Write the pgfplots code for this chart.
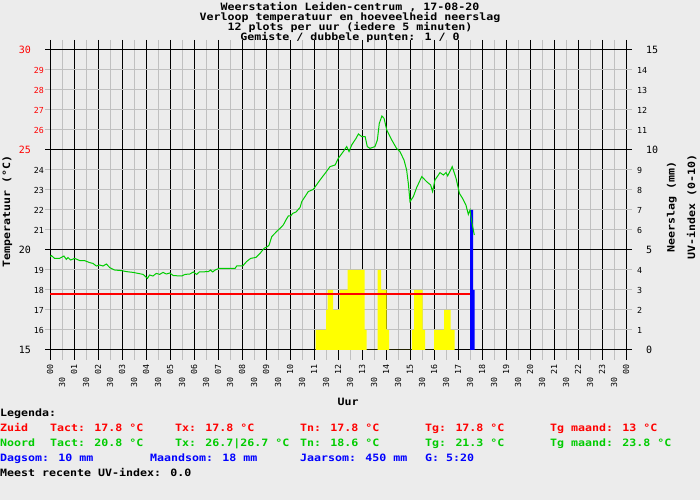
\documentclass[border=0pt]{standalone}
\usepackage{pgfplots}
\pgfplotsset{compat=1.18}
\usepackage{fontspec}
\newfontfamily\gdmono{DejaVu Sans Mono}
\newfontfamily\gdwide{DejaVu Sans Mono}[FakeStretch=1.15]
\newcommand\bigf{\fontsize{10.1}{11}\selectfont\gdwide\bfseries}
\newcommand\smf{\fontsize{10}{11}\selectfont\gdmono}
\newcommand\tnf{\fontsize{8.3}{9}\selectfont\gdmono}
\definecolor{bg}{RGB}{236,236,236}
\definecolor{gridgrey}{RGB}{192,192,192}
\definecolor{mygreen}{RGB}{0,204,0}
\definecolor{myred}{RGB}{255,0,0}
\definecolor{myblue}{RGB}{0,0,255}
\definecolor{myyellow}{RGB}{255,255,0}
\begin{document}
\begin{tikzpicture}[x=1pt,y=1pt]
\path[use as bounding box, fill=bg] (0,0) rectangle (700,500);
% ---------- axis A: grid, x ticks, bars
\begin{axis}[
  at={(50pt,150pt)}, anchor=south west, scale only axis,
  width=576pt, height=300pt,
  xmin=0, xmax=24, ymin=0, ymax=15,
  axis line style={black, line width=1pt},
  xtick={0,...,24},
  xticklabels={00,01,02,03,04,05,06,07,08,09,10,11,12,13,14,15,16,17,18,19,20,21,22,23,00},
  minor x tick num=1,
  extra x ticks={0.5,1.5,...,23.5},
  extra x tick labels={30,30,30,30,30,30,30,30,30,30,30,30,30,30,30,30,30,30,30,30,30,30,30,30},
  extra x tick style={grid=none, major tick style={draw=none}, xticklabel style={xshift=-13pt}},
  ytick={0,5,10,15}, yticklabels={},
  ytick style={draw=none},
  extra y ticks={1,2,3,4,6,7,8,9,11,12,13,14}, extra y tick labels={},
  extra y tick style={grid=major, major grid style={gridgrey, line width=1pt}, major tick style={draw=none}},
  grid=both,
  major grid style={black, line width=1pt},
  minor grid style={gridgrey, line width=1pt},
  tick align=outside,
  major tick length=10pt, minor tick length=10pt,
  major x tick style={black, line width=1pt},
  minor x tick style={gridgrey, line width=1pt},
  xticklabel style={rotate=90, anchor=east, inner sep=0pt, font=\tnf, xshift=-4pt},
]
\addplot[const plot, fill=myyellow, draw=none] coordinates {
 (11.071,1) (11.500,2) (11.571,3) (11.792,2) (12.071,3) (12.404,4)
 (13.113,1) (13.196,0) (13.654,4) (13.792,3) (14.029,1) (14.125,0)
 (15.083,1) (15.167,3) (15.529,1) (15.625,0) (16.000,1) (16.417,2)
 (16.696,1) (16.863,0)} \closedcycle;
\addplot[const plot, fill=myblue, draw=none] coordinates {
 (17.500,7) (17.625,3) (17.696,0)} \closedcycle;
\end{axis}
% ---------- axis B: right scale (Neerslag)
\begin{axis}[
  at={(50pt,150pt)}, anchor=south west, scale only axis,
  width=576pt, height=300pt,
  xmin=0, xmax=24, ymin=0, ymax=15,
  hide x axis, axis y line*=right,
  axis line style={black, line width=1pt},
  tick align=outside, major tick length=6pt,
  ytick={0,5,10,15}, yticklabels={0,5,10,15},
  major tick style={black, line width=1pt},
  yticklabel style={anchor=west, inner sep=0pt, font=\smf, xshift=14pt},
  extra y ticks={1,2,3,4,6,7,8,9,11,12,13,14},
  extra y tick labels={1,2,3,4,6,7,8,9,11,12,13,14},
  extra y tick style={major tick style={gridgrey, line width=1pt}, yticklabel style={font=\tnf, xshift=-9pt}},
]
\end{axis}
% ---------- axis C: left scale (temperature) and lines
\begin{axis}[
  at={(50pt,150pt)}, anchor=south west, scale only axis,
  width=576pt, height=300pt,
  xmin=0, xmax=24, ymin=15, ymax=30,
  hide x axis, axis y line*=left,
  axis line style={black, line width=1pt},
  tick align=outside, major tick length=5pt,
  ytick={15,20,25,30},
  yticklabels={15,20,\textcolor{myred}{25},\textcolor{myred}{30}},
  major tick style={black, line width=1pt},
  yticklabel style={anchor=east, inner sep=0pt, font=\smf, xshift=-14pt},
  extra y ticks={16,17,18,19,21,22,23,24,26,27,28,29},
  extra y tick labels={16,17,18,19,21,22,23,24,\textcolor{myred}{26},\textcolor{myred}{27},\textcolor{myred}{28},\textcolor{myred}{29}},
  extra y tick style={major tick style={gridgrey, line width=1pt}, yticklabel style={font=\tnf, xshift=13pt}},
]
\addplot[draw=myred, color=myred, line width=1.1pt] coordinates {(0,17.8) (17.5,17.8)};
\addplot[draw=mygreen, line width=1pt] coordinates {
(0.00,19.67) (0.06,19.72) (0.19,19.58) (0.40,19.58) (0.58,19.70) (0.68,19.53)
(0.75,19.62) (0.86,19.50) (1.03,19.58) (1.24,19.47) (1.44,19.47) (1.65,19.37)
(1.79,19.33) (1.93,19.20) (2.07,19.25) (2.21,19.20) (2.35,19.30) (2.49,19.12)
(2.69,19.00) (2.97,18.97) (3.18,18.92) (3.46,18.88) (3.67,18.83) (3.88,18.78)
(4.06,18.58) (4.15,18.75) (4.29,18.70) (4.43,18.83) (4.57,18.78) (4.71,18.88)
(4.85,18.80) (4.99,18.85) (5.14,18.72) (5.49,18.70) (5.63,18.78) (5.83,18.80)
(5.97,18.90) (6.11,18.78) (6.22,18.90) (6.60,18.92) (6.69,19.00) (6.78,18.90)
(6.88,19.00) (7.04,19.08) (7.36,19.08) (7.71,19.08) (7.78,19.20) (8.03,19.20)
(8.19,19.42) (8.36,19.58) (8.58,19.63) (8.75,19.83) (8.92,20.08) (9.06,20.17)
(9.13,20.25) (9.24,20.67) (9.44,20.92) (9.58,21.08) (9.72,21.25) (9.83,21.50)
(9.93,21.70) (10.03,21.70) (10.11,21.83) (10.25,21.90) (10.42,22.13) (10.49,22.42)
(10.76,22.92) (10.97,23.03) (11.25,23.50) (11.46,23.83) (11.67,24.17) (11.88,24.25)
(12.01,24.58) (12.22,24.92) (12.36,25.17) (12.46,24.92) (12.57,25.25) (12.75,25.58)
(12.85,25.80) (12.99,25.67) (13.13,25.67) (13.22,25.17) (13.33,25.08) (13.54,25.17)
(13.64,25.50) (13.72,26.33) (13.83,26.70) (13.92,26.58) (14.03,26.00) (14.24,25.50)
(14.44,25.08) (14.58,24.92) (14.75,24.50) (14.86,24.00) (14.93,23.33) (15.00,22.42)
(15.14,22.67) (15.28,23.13) (15.49,23.67) (15.69,23.42) (15.86,23.25) (15.94,22.92)
(16.04,23.50) (16.25,23.87) (16.39,23.75) (16.50,23.87) (16.57,23.70) (16.76,24.17)
(16.92,23.58) (17.06,22.83) (17.19,22.58) (17.33,22.25) (17.43,21.78) (17.50,22.00)
(17.57,21.42) (17.68,20.75)};
\end{axis}
% ---------- texts
\begin{scope}[every node/.style={inner sep=0pt}]
\node[anchor=base, font=\bigf] at (350,489) {Weerstation Leiden-centrum , 17-08-20};
\node[anchor=base, font=\bigf] at (350,479.3) {Verloop temperatuur en hoeveelheid neerslag};
\node[anchor=base, font=\bigf] at (350,469.6) {12 plots per uur (iedere 5 minuten)};
\node[anchor=base, font=\bigf] at (350,459.9) {Gemiste / dubbele punten: 1 / 0};
\node[rotate=90, font=\bigf] at (7.3,288.3) {Temperatuur (°C)};
\node[rotate=90, font=\bigf] at (671.7,293) {Neerslag (mm)};
\node[rotate=90, font=\bigf] at (691.7,293) {UV-index (0-10)};
\node[anchor=base, font=\bigf] at (348,94) {Uur};
\node[anchor=base west, font=\bigf] at (0,84) {Legenda:};
\begin{scope}[every node/.append style={anchor=base west, font=\bigf, text=myred}]
\node at (0,69) {Zuid};
\node at (50,69) {Tact: 17.8 °C};
\node at (175,69) {Tx: 17.8 °C};
\node at (300,69) {Tn: 17.8 °C};
\node at (425,69) {Tg: 17.8 °C};
\node at (550,69) {Tg maand: 13 °C};
\end{scope}
\begin{scope}[every node/.append style={anchor=base west, font=\bigf, text=mygreen}]
\node at (0,54) {Noord};
\node at (50,54) {Tact: 20.8 °C};
\node at (175,54) {Tx: 26.7|26.7 °C};
\node at (300,54) {Tn: 18.6 °C};
\node at (425,54) {Tg: 21.3 °C};
\node at (550,54) {Tg maand: 23.8 °C};
\end{scope}
\begin{scope}[every node/.append style={anchor=base west, font=\bigf, text=myblue}]
\node at (0,39) {Dagsom: 10 mm};
\node at (150,39) {Maandsom: 18 mm};
\node at (300,39) {Jaarsom: 450 mm};
\node at (425,39) {G: 5:20};
\end{scope}
\node[anchor=base west, font=\bigf] at (0,24) {Meest recente UV-index: 0.0};
\end{scope}
\end{tikzpicture}
\end{document}
